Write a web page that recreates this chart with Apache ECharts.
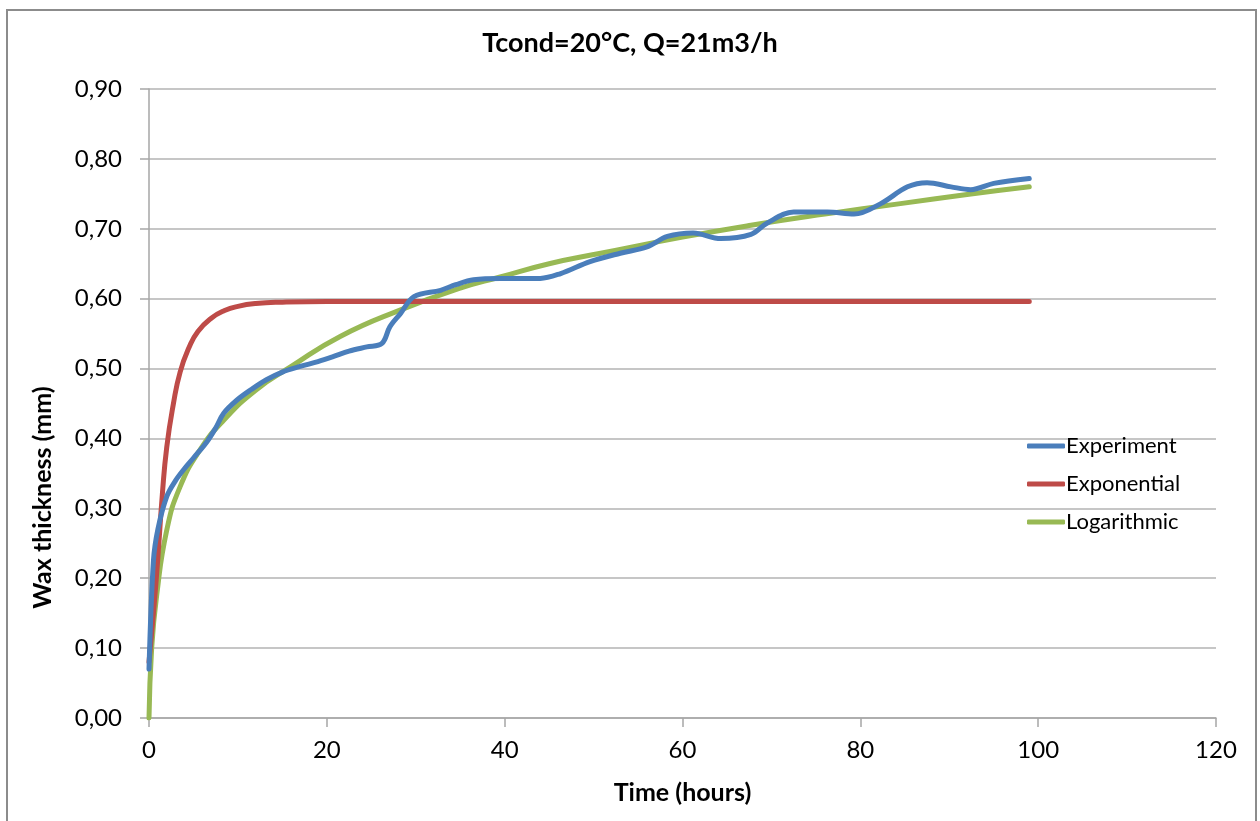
<!DOCTYPE html>
<html>
<head>
<meta charset="utf-8">
<title>Wax thickness vs time</title>
<script src="https://cdn.jsdelivr.net/npm/echarts@6/dist/echarts.min.js"></script>
<style>
  html, body { margin: 0; padding: 0; background: #ffffff; }
  #chart { width: 1260px; height: 821px; }
</style>
</head>
<body>
<div id="chart"></div>
<script>
// Measured wax thickness (mm) against time (hours): [time, thickness]
const experiment = [
  [0, 0.07], [0.5, 0.225], [1, 0.27], [2, 0.317], [3, 0.34], [4, 0.357], [5, 0.372],
  [6.5, 0.395], [7.5, 0.415], [8.4, 0.436], [9.9, 0.455], [11.5, 0.47], [13.2, 0.484],
  [15, 0.495], [17, 0.503], [19, 0.51], [20.7, 0.517], [22.5, 0.525], [24.5, 0.531],
  [26.2, 0.536], [27.1, 0.56], [28.3, 0.579], [29.8, 0.603], [32.8, 0.612], [34.5, 0.62],
  [36.5, 0.627], [39.5, 0.629], [44, 0.629], [46.3, 0.636], [49.6, 0.653], [53, 0.665],
  [56, 0.674], [58.3, 0.689], [61.2, 0.694], [64.3, 0.686], [67.7, 0.692], [69.5, 0.708],
  [72.5, 0.724], [76.3, 0.724], [79.3, 0.721], [82.3, 0.736], [85.3, 0.76], [87.5, 0.766],
  [90.2, 0.76], [92.4, 0.756], [95, 0.765], [99, 0.772]
];

// Exponential model curve
const exponential = [
  [0, 0.08], [0.5, 0.15], [1, 0.23], [1.5, 0.32], [2, 0.388], [2.75, 0.45], [3.5, 0.495],
  [4.5, 0.53], [5.5, 0.553], [7, 0.572], [8.5, 0.583], [10, 0.589], [12, 0.593],
  [15, 0.595], [20, 0.596], [30, 0.596], [45, 0.596], [60, 0.596], [75, 0.596],
  [90, 0.596], [99, 0.596]
];

// Logarithmic model curve
const logarithmic = [
  [0, 0], [0.3, 0.1], [0.85, 0.174], [2, 0.269], [3.5, 0.331], [5.7, 0.383], [8.4, 0.426],
  [12, 0.469], [16, 0.503], [21.5, 0.546], [28.3, 0.584], [35, 0.615], [39.5, 0.631],
  [45, 0.65], [50.8, 0.665], [60, 0.688], [67.7, 0.705], [76, 0.721], [84.5, 0.736],
  [92, 0.749], [99, 0.76]
];

const seriesNames = ['Experiment', 'Exponential', 'Logarithmic'];
const chartTitle = 'Tcond=20°C, Q=21m3/h';
const xAxisTitle = 'Time (hours)';
const yAxisTitle = 'Wax thickness (mm)';

const FONT = 'Lato, "Open Sans", sans-serif';
const colors = ['#4a7ebb', '#be4b48', '#98b954'];

const chart = echarts.init(document.getElementById('chart'), null, { renderer: 'canvas' });

const datasets = [experiment, exponential, logarithmic];

chart.setOption({
  animation: false,
  backgroundColor: '#ffffff',
  color: colors,
  title: {
    text: chartTitle,
    left: 'center',
    top: 25,
    textStyle: { fontFamily: FONT, fontSize: 27, fontWeight: 'bold', color: '#000' }
  },
  graphic: [{
    type: 'rect',
    shape: { x: 7, y: 10, width: 1249, height: 840 },
    style: { fill: 'none', stroke: '#8c8c8c', lineWidth: 2 },
    silent: true
  }],
  legend: {
    orient: 'vertical',
    left: 1022,
    top: 430,
    itemWidth: 38,
    itemHeight: 5,
    itemGap: 16,
    icon: 'roundRect',
    data: seriesNames,
    textStyle: { fontFamily: FONT, fontSize: 22, color: '#000', padding: [0, 0, 0, -4] }
  },
  grid: { left: 149, right: 44, top: 89, bottom: 103, containLabel: false },
  xAxis: {
    type: 'value',
    min: 0, max: 120, interval: 20,
    name: xAxisTitle,
    nameLocation: 'middle',
    nameGap: 62,
    nameTextStyle: { fontFamily: FONT, fontSize: 25, fontWeight: 'bold', color: '#000' },
    axisLine: { show: true, lineStyle: { color: '#a6a6a6', width: 1.5 } },
    axisTick: { show: true, length: 9, lineStyle: { color: '#a6a6a6', width: 1.5 } },
    axisLabel: { fontFamily: FONT, fontSize: 24, color: '#000', margin: 20 },
    splitLine: { show: false }
  },
  yAxis: {
    type: 'value',
    min: 0, max: 0.9, interval: 0.1,
    name: yAxisTitle,
    nameLocation: 'middle',
    nameRotate: 90,
    nameGap: 94,
    nameTextStyle: {
      fontFamily: FONT, fontSize: 25, fontWeight: 'bold', color: '#000',
      padding: [0, 188, 0, 0]
    },
    axisLine: { show: true, lineStyle: { color: '#a6a6a6', width: 1.5 } },
    axisTick: { show: true, length: 9, lineStyle: { color: '#a6a6a6', width: 1.5 } },
    axisLabel: {
      fontFamily: FONT, fontSize: 24, color: '#000', margin: 27,
      formatter: v => v.toFixed(2).replace('.', ',')
    },
    splitLine: { show: true, lineStyle: { color: '#b3b3b3', width: 1.5 } }
  },
  series: seriesNames.map((name, i) => ({
    name,
    type: 'line',
    data: datasets[i],
    smooth: i === 0 ? 0.35 : 0.5,
    showSymbol: false,
    symbol: 'none',
    z: 3 - i + 2,
    lineStyle: { width: 5, color: colors[i], cap: 'round', join: 'round' }
  }))
});
</script>
</body>
</html>
